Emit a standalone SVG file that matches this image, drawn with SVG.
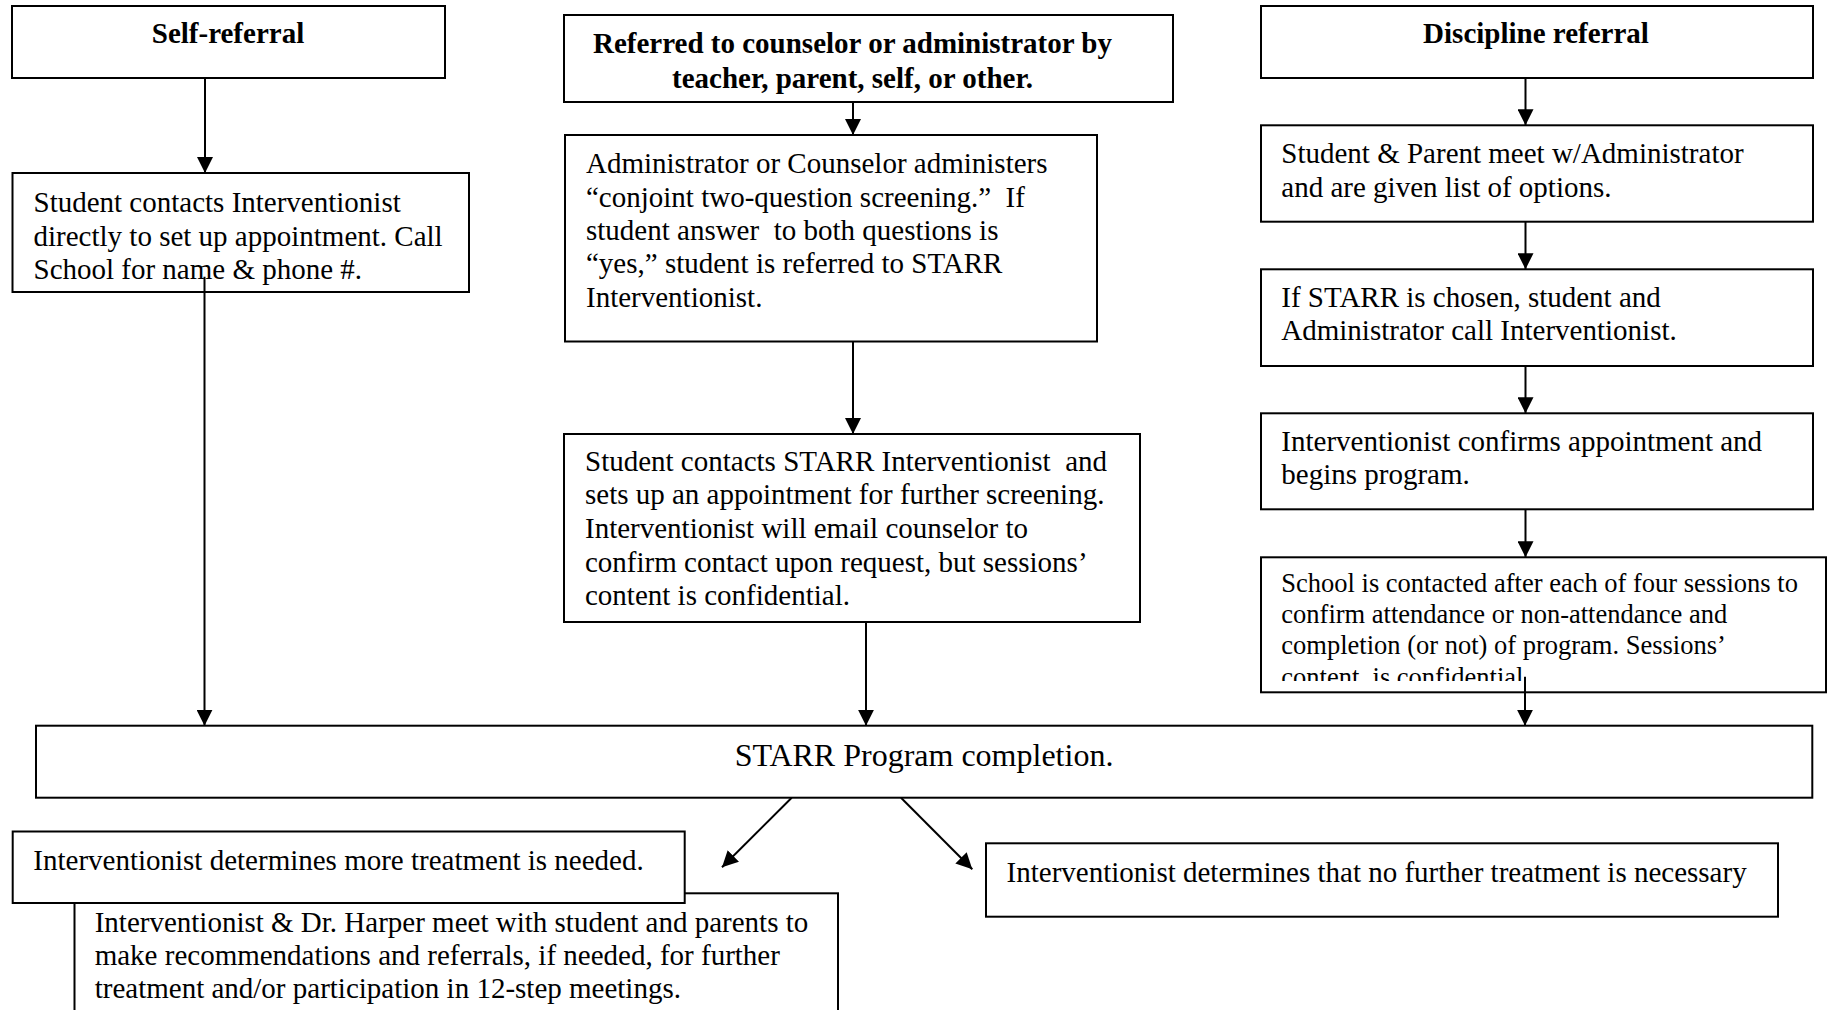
<svg xmlns="http://www.w3.org/2000/svg" width="1829" height="1010" viewBox="0 0 1829 1010">
<style>
.box{fill:#fff;stroke:#000;stroke-width:2}
.t{font-family:"Liberation Serif","Times New Roman",serif;font-size:29px;fill:#000;white-space:pre}
.b{font-weight:bold;text-anchor:middle}
.s{font-size:26.5px}
.big{font-size:32px;text-anchor:middle}
.c{stroke:#000;stroke-width:2;fill:none;marker-end:url(#ah)}
</style>
<defs>
<marker id="ah" markerUnits="userSpaceOnUse" markerWidth="17" markerHeight="16" refX="16" refY="8" orient="auto">
<path d="M0,0 L16,8 L0,16 z" fill="#000"/>
</marker>
<clipPath id="clipSchool"><rect x="1261" y="557" width="565" height="124"/></clipPath>
</defs>
<rect width="1829" height="1010" fill="#fff"/>

<g id="self-referral">
<rect class="box" x="12" y="6" width="433" height="72"/>
<text class="t b" x="228" y="43">Self-referral</text>
</g>
<g id="student-contacts">
<rect class="box" x="12.5" y="173" width="456.5" height="119"/>
<text class="t" x="33.5" y="212">Student contacts Interventionist</text>
<text class="t" x="33.5" y="245.5">directly to set up appointment. Call</text>
<text class="t" x="33.5" y="279">School for name &amp; phone #.</text>
</g>
<g id="referred">
<rect class="box" x="564" y="15" width="609" height="87"/>
<text class="t b" x="852.5" y="53">Referred to counselor or administrator by</text>
<text class="t b" x="852.5" y="87.5">teacher, parent, self, or other.</text>
</g>
<g id="screening">
<rect class="box" x="565" y="135" width="532" height="206.5"/>
<text class="t" x="586" y="173.3">Administrator or Counselor administers</text>
<text class="t" x="586" y="206.7" xml:space="preserve">“conjoint two-question screening.”  If</text>
<text class="t" x="586" y="240" xml:space="preserve">student answer  to both questions is</text>
<text class="t" x="586" y="273.3">“yes,” student is referred to STARR</text>
<text class="t" x="586" y="306.7">Interventionist.</text>
</g>
<g id="starr-contact">
<rect class="box" x="564" y="434" width="576" height="188"/>
<text class="t" x="585" y="470.7" xml:space="preserve">Student contacts STARR Interventionist  and</text>
<text class="t" x="585" y="504.3">sets up an appointment for further screening.</text>
<text class="t" x="585" y="538">Interventionist will email counselor to</text>
<text class="t" x="585" y="571.6">confirm contact upon request, but sessions’</text>
<text class="t" x="585" y="605">content is confidential.</text>
</g>
<g id="discipline">
<rect class="box" x="1261" y="6" width="552" height="72"/>
<text class="t b" x="1536" y="43.3">Discipline referral</text>
</g>
<g id="parent-meet">
<rect class="box" x="1261" y="125.3" width="552" height="96.4"/>
<text class="t" x="1281.3" y="163.3">Student &amp; Parent meet w/Administrator</text>
<text class="t" x="1281.3" y="196.7">and are given list of options.</text>
</g>
<g id="starr-chosen">
<rect class="box" x="1261" y="269.3" width="552" height="96.7"/>
<text class="t" x="1281.3" y="306.7">If STARR is chosen, student and</text>
<text class="t" x="1281.3" y="340">Administrator call Interventionist.</text>
</g>
<g id="confirms">
<rect class="box" x="1261" y="413.3" width="552" height="96"/>
<text class="t" x="1281.3" y="450.7">Interventionist confirms appointment and</text>
<text class="t" x="1281.3" y="484">begins program.</text>
</g>
<g id="school-contacted">
<rect class="box" x="1261" y="557.3" width="565" height="135"/>
<g clip-path="url(#clipSchool)">
<text class="t s" x="1281.3" y="591.7">School is contacted after each of four sessions to</text>
<text class="t s" x="1281.3" y="623">confirm attendance or non-attendance and</text>
<text class="t s" x="1281.3" y="654.3">completion (or not) of program. Sessions’</text>
<text class="t s" x="1281.3" y="685.6" xml:space="preserve">content  is confidential.</text>
</g>
</g>
<g id="completion">
<rect class="box" x="36" y="725.7" width="1776.3" height="72"/>
<text class="t big" x="924" y="766">STARR Program completion.</text>
</g>
<g id="harper-meeting">
<rect class="box" x="74.5" y="893.3" width="763.5" height="150"/>
<text class="t" x="94.7" y="931.7">Interventionist &amp; Dr. Harper meet with student and parents to</text>
<text class="t" x="94.7" y="965">make recommendations and referrals, if needed, for further</text>
<text class="t" x="94.7" y="998">treatment and/or participation in 12-step meetings.</text>
</g>
<g id="more-treatment">
<rect class="box" x="12.7" y="831.5" width="672" height="71.5"/>
<text class="t" x="33.3" y="870">Interventionist determines more treatment is needed.</text>
</g>
<g id="no-further">
<rect class="box" x="986" y="843.3" width="792" height="73.4"/>
<text class="t" x="1006.6" y="881.7">Interventionist determines that no further treatment is necessary</text>
</g>

<g id="connectors">
<line class="c" x1="205" y1="78" x2="205" y2="173"/>
<line class="c" x1="853" y1="102" x2="853" y2="135"/>
<line class="c" x1="853" y1="341.5" x2="853" y2="434"/>
<line class="c" x1="1525.5" y1="78" x2="1525.5" y2="125.3"/>
<line class="c" x1="1525.5" y1="221.7" x2="1525.5" y2="269.3"/>
<line class="c" x1="1525.5" y1="366" x2="1525.5" y2="413.3"/>
<line class="c" x1="1525.5" y1="509.3" x2="1525.5" y2="557.3"/>
<line class="c" x1="204.5" y1="276.7" x2="204.5" y2="725.7"/>
<line class="c" x1="866" y1="622" x2="866" y2="725.7"/>
<line class="c" x1="1525" y1="676.7" x2="1525" y2="725.7"/>
<line class="c" x1="791.7" y1="797.7" x2="722" y2="867.3"/>
<line class="c" x1="901" y1="797.7" x2="972.3" y2="869.3"/>
</g>
</svg>
